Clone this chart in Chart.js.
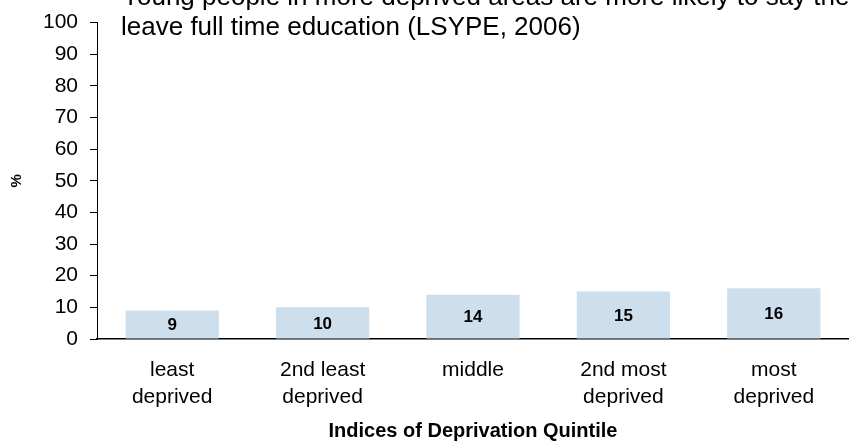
<!DOCTYPE html>
<html>
<head>
<meta charset="utf-8">
<script src="https://cdn.jsdelivr.net/npm/chart.js@4.4.1/dist/chart.umd.min.js"></script>
<style>
  html, body { margin: 0; padding: 0; background: #ffffff; }
  #wrap { width: 849px; height: 443px; position: relative; }
</style>
</head>
<body>
<div id="wrap"><canvas id="c" width="849" height="443"></canvas></div>
<script>
const categories = [
  ['least', 'deprived'],
  ['2nd least', 'deprived'],
  ['middle', ''],
  ['2nd most', 'deprived'],
  ['most', 'deprived']
];
const values = [9, 10, 14, 15, 16];
const yTicks = [0, 10, 20, 30, 40, 50, 60, 70, 80, 90, 100];
const titleLines = [
  'Young people in more deprived areas are more likely to say they will',
  'leave full time education (LSYPE, 2006)'
];
const xTitle = 'Indices of Deprivation Quintile';
const yTitle = '%';

const FONT = "'Liberation Sans', Arial, sans-serif";

const titlePlugin = {
  id: 'topTitle',
  afterDraw(chart) {
    const ctx = chart.ctx;
    ctx.save();
    ctx.fillStyle = '#000';
    ctx.font = '26px ' + FONT;
    ctx.textAlign = 'left';
    ctx.textBaseline = 'alphabetic';
    ctx.fillText(titleLines[0], 122, 5);
    ctx.fillText(titleLines[1], 121, 35);
    ctx.restore();
  }
};

const barLabelPlugin = {
  id: 'barLabels',
  afterDatasetsDraw(chart) {
    const ctx = chart.ctx;
    const meta = chart.getDatasetMeta(0);
    ctx.save();
    ctx.fillStyle = '#000';
    ctx.font = 'bold 17px ' + FONT;
    ctx.textAlign = 'center';
    ctx.textBaseline = 'middle';
    meta.data.forEach((bar, i) => {
      const y = (bar.y + bar.base) / 2;
      ctx.fillText(String(values[i]), bar.x, y + 1);
    });
    ctx.restore();
  }
};

new Chart(document.getElementById('c'), {
  type: 'bar',
  data: {
    labels: categories,
    datasets: [{
      data: values,
      backgroundColor: '#cddeed',
      borderWidth: 0,
      categoryPercentage: 1.0,
      barPercentage: 0.62
    }]
  },
  options: {
    responsive: false,
    animation: false,
    events: [],
    layout: { padding: { top: 0, right: 0, left: 0, bottom: 0 } },
    plugins: {
      legend: { display: false },
      tooltip: { enabled: false },
      title: { display: false }
    },
    scales: {
      x: {
        offset: true,
        grid: { display: true, drawOnChartArea: false, drawTicks: false },
        border: { display: true, color: '#000', width: 1.5 },
        ticks: {
          color: '#000',
          font: { family: FONT, size: 21, lineHeight: 1.286 },
          padding: 18,
          maxRotation: 0,
          autoSkip: false
        },
        title: {
          display: true,
          text: xTitle,
          color: '#000',
          font: { family: FONT, size: 20, weight: 'bold', lineHeight: 1.2 },
          padding: { top: 0, bottom: 0 }
        },
        afterFit(scale) { scale.height = 104; }
      },
      y: {
        min: 0,
        max: 100,
        afterBuildTicks(scale) { scale.ticks = yTicks.map(v => ({ value: v })); },
        grid: { display: true, drawOnChartArea: false, drawTicks: true, tickLength: 7, color: '#000' },
        border: { display: true, color: '#000', width: 1 },
        ticks: {
          color: '#000',
          font: { family: FONT, size: 21, lineHeight: 1.0 },
          padding: 12
        },
        title: {
          display: true,
          text: yTitle,
          color: '#000',
          font: { family: FONT, size: 15, weight: 'bold', lineHeight: 1.2 },
          padding: { top: 7.5, bottom: 0 }
        },
        afterFit(scale) { scale.width = 97; }
      }
    }
  },
  plugins: [titlePlugin, barLabelPlugin]
});
</script>
</body>
</html>
